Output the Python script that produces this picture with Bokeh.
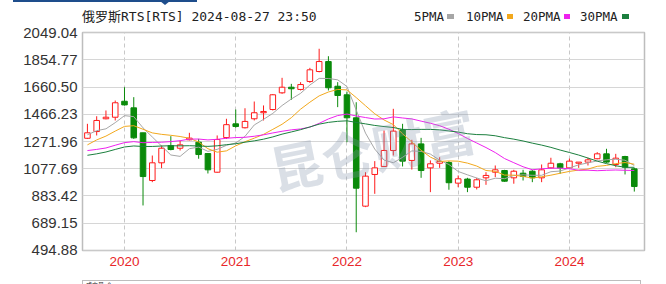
import numpy as np
import pandas as pd
from bokeh.plotting import figure
from bokeh.layouts import column
from bokeh.models import (ColumnDataSource, FixedTicker, Label, Div,
                          Range1d, NumeralTickFormatter)
from bokeh.embed import file_html
from bokeh.resources import INLINE

# ---------------- data (monthly candles, Sep 2019 - Aug 2024) ----------------
months = [d.strftime("%Y-%m") for d in pd.date_range("2019-09-01", "2024-08-01", freq="MS")]

open_ = [1295, 1343, 1434, 1445, 1559, 1512, 1334, 994, 1120, 1243, 1224, 1284, 1267, 1186, 1053, 1300,
         1398, 1370, 1434, 1477, 1500, 1619, 1659, 1643, 1700, 1771, 1842, 1666,
         1605, 1441, 811, 1037, 1094, 1208, 1355, 1137, 1255, 1084, 1117, 1122,
         975, 1004, 946, 1013, 1053, 1065, 1013, 1046, 1060, 1013, 1084, 1113,
         1084, 1117, 1125, 1149, 1184, 1108, 1165, 1077]
close = [1334, 1422, 1445, 1548, 1533, 1298, 1022, 1120, 1224, 1215, 1248, 1296, 1179, 1070, 1286, 1392,
         1379, 1415, 1477, 1486, 1605, 1659, 1648, 1678, 1783, 1842, 1655, 1600,
         1441, 939, 1025, 1084, 1208, 1346, 1132, 1255, 1065, 1113, 1129, 978,
         1006, 946, 999, 1030, 1070, 989, 1060, 1023, 1013, 1070, 1117, 1084,
         1132, 1125, 1141, 1184, 1125, 1153, 1089, 951]
high = [1398, 1452, 1493, 1564, 1659, 1588, 1334, 1172, 1243, 1310, 1279, 1334, 1291, 1190, 1315, 1434,
        1500, 1509, 1557, 1529, 1610, 1726, 1683, 1695, 1797, 1933, 1880, 1695,
        1628, 1552, 1053, 1132, 1350, 1505, 1398, 1284, 1298, 1137, 1160, 1132,
        1030, 1013, 1013, 1053, 1101, 1070, 1070, 1070, 1070, 1108, 1156, 1120,
        1150, 1125, 1156, 1196, 1220, 1184, 1170, 1085]
low = [1290, 1315, 1430, 1422, 1528, 1291, 816, 982, 1082, 1209, 1208, 1280, 1149, 1044, 1050, 1290,
       1370, 1365, 1422, 1422, 1493, 1612, 1569, 1636, 1690, 1765, 1636, 1517,
       1267, 625, 804, 899, 1090, 1172, 1094, 1072, 1013, 911, 1084, 928,
       946, 911, 930, 963, 1018, 985, 971, 994, 982, 982, 1080, 1042,
       1080, 1084, 1101, 1145, 1120, 1089, 1037, 915]
# closes of the 29 months before the first visible candle (Apr 2017 - Aug 2019), for the moving averages
prior_close = [1114, 1050, 1001, 1007, 1080, 1137, 1113, 1126, 1154, 1282, 1259, 1240, 1155, 1164, 1153,
               1178, 1081, 1191, 1125, 1122, 1068, 1174, 1191, 1198, 1249, 1275, 1379, 1328, 1283]

y_ticks = [494.88, 689.15, 883.42, 1077.69, 1271.96, 1466.23, 1660.50, 1854.77, 2049.04]
year_labels = ["2020", "2021", "2022", "2023", "2024"]
year_months = ["2020-01", "2021-01", "2022-01", "2023-01", "2024-01"]
ma_periods = [5, 10, 20, 30]
ma_names = ["5PMA", "10PMA", "20PMA", "30PMA"]
ma_colors = ["#a6a6a6", "#f2a81d", "#ee22ee", "#1b7f3e"]

title_text = "俄罗斯RTS[RTS] 2024-08-27 23:50"
volume_text = "成交量 0"
watermark_text = "昆仑财富"

# ---------------- derived ----------------
n = len(months)
x = list(range(n))
up = [c >= o for o, c in zip(open_, close)]
RED, GREEN = "#ff1a1a", "#0a8a0a"
src = ColumnDataSource(dict(
    x=x, open=open_, close=close, high=high, low=low,
    top=[max(o, c) for o, c in zip(open_, close)],
    bottom=[min(o, c) for o, c in zip(open_, close)],
    line=[RED if u else GREEN for u in up],
    fill=["white" if u else GREEN for u in up],
))
full_close = np.array(prior_close + close, dtype=float)
off = len(prior_close)
mas = {}
for per in ma_periods:
    mas[per] = [full_close[off + i - per + 1: off + i + 1].mean() for i in range(n)]

year_idx = [months.index(m) for m in year_months]

W = 666
FONT_CSS = "'DejaVu Sans Mono','Noto Sans CJK SC',monospace"

# ---------------- header (title + legend) ----------------
leg_text_x = [414, 466, 523, 580]
leg_box = [(447, 7), (507, 6), (564, 6), (622, 7)]
parts = [
    f'<div style="position:relative;width:{W}px;height:24px;overflow:hidden;'
    f'font-family:{FONT_CSS};color:#222;">',
    '<div style="position:absolute;left:13px;top:0;width:184px;height:2px;background:#1e4d8c"></div>',
    '<div style="position:absolute;left:160px;top:1px;width:0;height:0;border-left:5px solid transparent;'
    'border-right:5px solid transparent;border-top:4px solid #1e4d8c"></div>',
    f'<span style="position:absolute;left:82px;top:8px;font-size:13px;line-height:17px;'
    f'white-space:nowrap">{title_text}</span>',
]
for name, col, tx, (bl, bw) in zip(ma_names, ma_colors, leg_text_x, leg_box):
    parts.append(f'<span style="position:absolute;left:{tx}px;top:8px;font-size:12.5px;line-height:17px;'
                 f'white-space:nowrap">{name}</span>')
    parts.append(f'<div style="position:absolute;left:{bl}px;top:14px;width:{bw}px;height:4.5px;'
                 f'background:{col}"></div>')
parts.append('</div>')
hdr = Div(text="".join(parts), width=W, height=24, margin=0)

# ---------------- main candlestick chart ----------------
p = figure(width=W, height=252, x_range=Range1d(-0.53, 60.10), y_range=Range1d(494.86, 2049.06),
           title=None, output_backend="svg", toolbar_location=None,
           min_border_left=82, min_border_right=22, min_border_top=8, min_border_bottom=26,
           background_fill_color="white", border_fill_color="white")
p.outline_line_color = "#bdbdbd"
p.outline_line_width = 1.5

p.xaxis.ticker = FixedTicker(ticks=year_idx)
p.xaxis.major_label_overrides = {i: lab for i, lab in zip(year_idx, year_labels)}
p.xaxis.major_label_text_color = "#e8262a"
p.xaxis.major_label_text_font = "Liberation Sans"
p.xaxis.major_label_text_font_size = "13.5px"
p.xaxis.major_label_standoff = 6
p.xaxis.major_tick_out = 0
p.xaxis.major_tick_in = 0
p.xaxis.minor_tick_out = 0
p.xaxis.axis_line_color = None

p.yaxis.ticker = FixedTicker(ticks=y_ticks)
p.yaxis.formatter = NumeralTickFormatter(format="0.00")
p.yaxis.major_label_text_color = "#333333"
p.yaxis.major_label_text_font = "Liberation Sans"
p.yaxis.major_label_text_font_size = "15px"
p.yaxis.major_label_standoff = 5
p.yaxis.major_tick_out = 0
p.yaxis.major_tick_in = 0
p.yaxis.minor_tick_out = 0
p.yaxis.minor_tick_in = 0
p.yaxis.axis_line_color = None

p.ygrid.grid_line_color = "#d6d6d6"
p.ygrid.grid_line_width = 1
p.xgrid.grid_line_color = "#c8c8c8"
p.xgrid.grid_line_dash = "4 3"

# watermark
p.add_layout(Label(x=188, y=82, x_units="screen", y_units="screen", text=watermark_text,
                   text_font="Noto Sans CJK SC", text_font_style="bold",
                   text_font_size="52px", text_color="#8595ad", text_alpha=0.3,
                   text_baseline="middle", angle=0.2))

# candles
p.segment(x0="x", y0="low", x1="x", y1="high", line_color="line", line_width=1, source=src)
p.vbar(x="x", width=0.6, top="top", bottom="bottom", fill_color="fill", line_color="line",
       line_width=1, source=src)

# moving averages
for per, col in zip(ma_periods, ma_colors):
    p.line(x, mas[per], line_color=col, line_width=1)

# ---------------- volume panel (only its top edge is in view) ----------------
vol_html = (
    f'<div style="position:relative;width:{W}px;height:8px;overflow:hidden;'
    f'font-family:{FONT_CSS};color:#222;">'
    '<div style="position:absolute;left:82px;top:0;width:559px;height:30px;'
    'border:1.5px solid #bdbdbd"></div>'
    f'<span style="position:absolute;left:86px;top:1.5px;font-size:6px;line-height:6px;'
    f'white-space:nowrap">{volume_text}</span>'
    '</div>'
)
vol = Div(text=vol_html, width=W, height=8, margin=0)

layout = column(hdr, p, vol, spacing=0)
open("out.html", "w").write(file_html(layout, INLINE))
